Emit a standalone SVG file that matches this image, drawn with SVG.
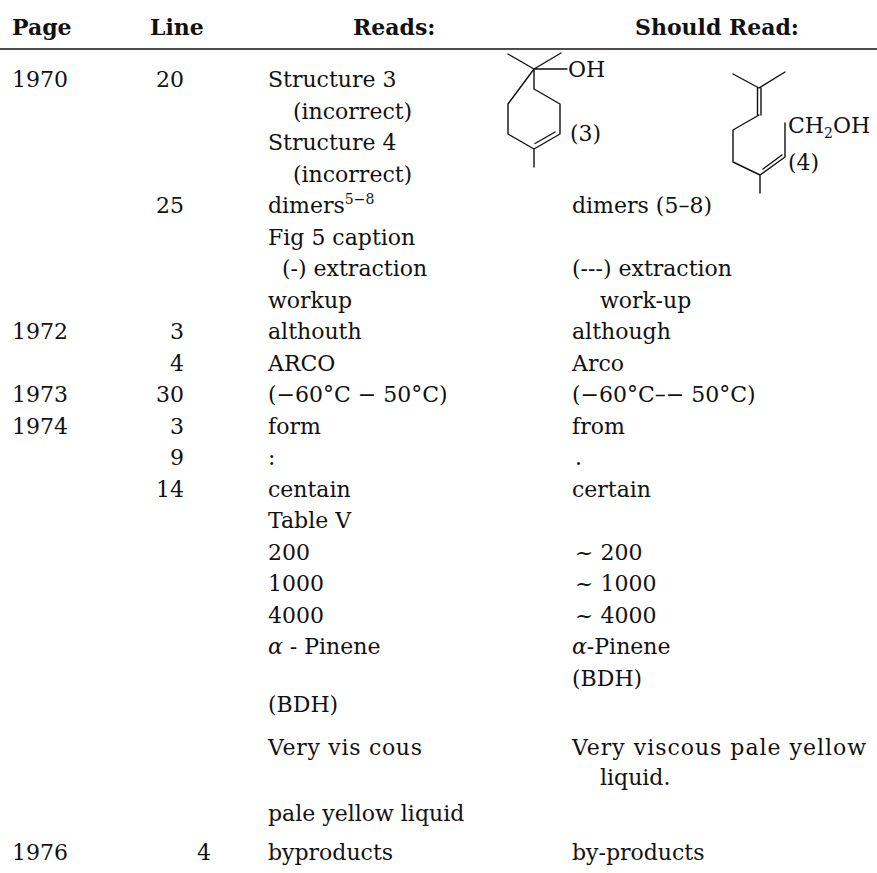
<svg xmlns="http://www.w3.org/2000/svg" width="877" height="873" viewBox="0 0 877 873">
<style>
  text { font-family: "DejaVu Serif", "Liberation Serif", serif; font-size: 22px; fill: #111; }
  .h { font-weight: bold; }
  .e { text-anchor: end; }
  .sm { font-size: 14px; }
  .b { stroke: #111; stroke-width: 1.4; fill: none; stroke-linecap: round; stroke-linejoin: round; }
</style>
<rect width="877" height="873" fill="#fff"/>
<g id="header">
  <text class="h" x="12" y="35">Page</text>
  <text class="h" x="150" y="35">Line</text>
  <text class="h" x="353" y="35">Reads:</text>
  <text class="h" x="635" y="35">Should Read:</text>
  <line x1="0" y1="49" x2="877" y2="49" stroke="#111" stroke-width="1.6"/>
</g>
<g id="page-col">
  <text x="12" y="87">1970</text>
  <text x="12" y="339">1972</text>
  <text x="12" y="402">1973</text>
  <text x="12" y="433.5">1974</text>
  <text x="12" y="860">1976</text>
</g>
<g id="line-col">
  <text class="e" x="184" y="87">20</text>
  <text class="e" x="184" y="213">25</text>
  <text class="e" x="184" y="339">3</text>
  <text class="e" x="184" y="370.5">4</text>
  <text class="e" x="184" y="402">30</text>
  <text class="e" x="184" y="433.5">3</text>
  <text class="e" x="184" y="465">9</text>
  <text class="e" x="184" y="496.5">14</text>
  <text x="197" y="860">4</text>
</g>
<g id="reads-col">
  <text x="268" y="87">Structure 3</text>
  <text x="293" y="118.5">(incorrect)</text>
  <text x="268" y="150">Structure 4</text>
  <text x="293" y="181.5">(incorrect)</text>
  <text x="268" y="213">dimers<tspan class="sm" dy="-9">5−8</tspan></text>
  <text x="268" y="244.5">Fig 5 caption</text>
  <text x="282" y="276">(-) extraction</text>
  <text x="268" y="307.5">workup</text>
  <text x="268" y="339">althouth</text>
  <text x="268" y="370.5">ARCO</text>
  <text x="268" y="402">(−60°C − 50°C)</text>
  <text x="268" y="433.5">form</text>
  <text x="268" y="465">:</text>
  <text x="268" y="496.5">centain</text>
  <text x="268" y="528">Table V</text>
  <text x="268" y="559.5">200</text>
  <text x="268" y="591">1000</text>
  <text x="268" y="622.5">4000</text>
  <text x="268" y="654"><tspan font-style="italic">α</tspan> - Pinene</text>
  <text x="268" y="712">(BDH)</text>
  <text x="268" y="755" textLength="154">Very vis cous</text>
  <text x="268" y="821">pale yellow liquid</text>
  <text x="268" y="860">byproducts</text>
</g>
<g id="should-read-col">
  <text x="572" y="213">dimers (5–8)</text>
  <text x="572" y="276">(---) extraction</text>
  <text x="600" y="307.5">work-up</text>
  <text x="572" y="339">although</text>
  <text x="572" y="370.5">Arco</text>
  <text x="572" y="402">(−60°C–− 50°C)</text>
  <text x="572" y="433.5">from</text>
  <text x="575" y="465">.</text>
  <text x="572" y="496.5">certain</text>
  <text x="575" y="559.5">~ 200</text>
  <text x="575" y="591">~ 1000</text>
  <text x="575" y="622.5">~ 4000</text>
  <text x="572" y="654"><tspan font-style="italic">α</tspan>-Pinene</text>
  <text x="572" y="685.5">(BDH)</text>
  <text x="572" y="755" textLength="294">Very viscous pale yellow</text>
  <text x="600" y="785">liquid.</text>
  <text x="572" y="860">by-products</text>
</g>
<g id="structure-3">
  <path class="b" d="M508,54 L534,69 L561,53 M534,69 L567,69 M534,69 L534,89 L560,104 L560,134 L534,149 L508,134 L508,104 Z M534,149 L534,167"/>
  <path class="b" d="M555,132 L535,143.5"/>
  <text x="568" y="77">OH</text>
  <text x="570" y="141">(3)</text>
</g>
<g id="structure-4">
  <path class="b" d="M733,74 L759,88 L785,72 M757.5,88 L757.5,115 M761,88 L761,115 M759,115 L733,130 L733,162 L760,175 L785,157 L785,123 M760,175 L760,193"/>
  <path class="b" d="M763,169 L782,155"/>
  <text x="788" y="133" font-size="23">CH<tspan class="sm" dy="5">2</tspan><tspan dy="-5">OH</tspan></text>
  <text x="788" y="170">(4)</text>
</g>
</svg>
